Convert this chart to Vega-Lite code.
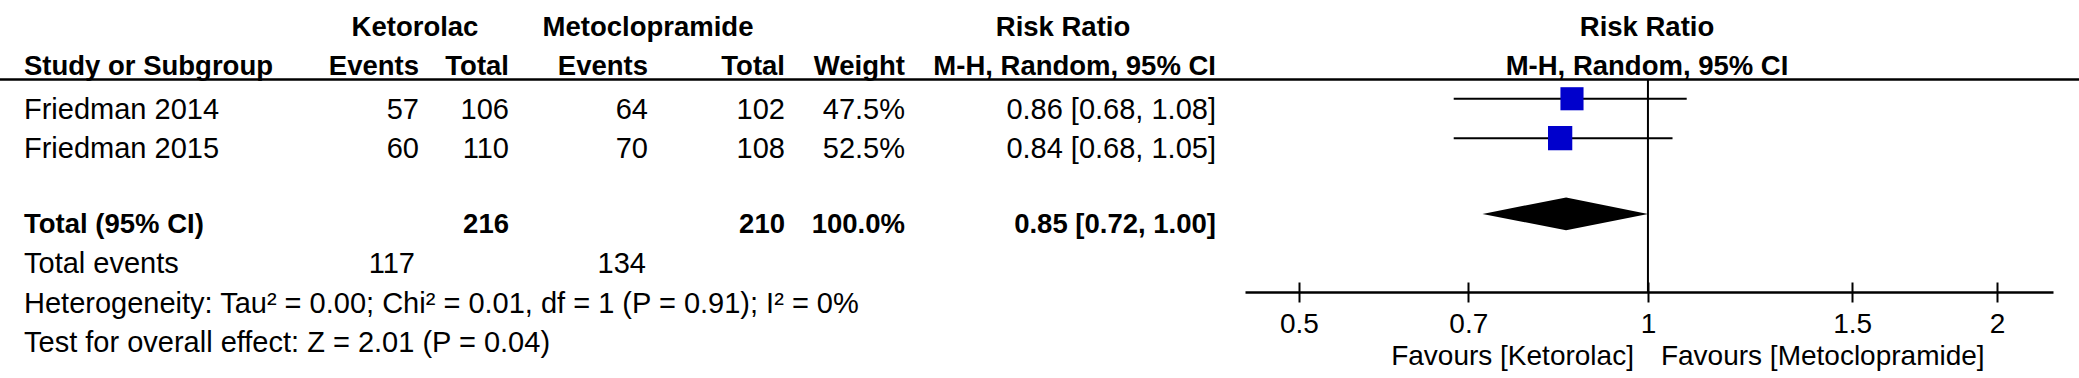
{
  "$schema": "https://vega.github.io/schema/vega-lite/v6.json",
  "width": 2079,
  "height": 292,
  "autosize": {"type": "none"},
  "padding": {"left": 0, "top": 0, "right": 0, "bottom": 86},
  "background": "#ffffff",
  "config": {
    "view": {"stroke": null},
    "axis": {"labelFont": "Liberation Sans", "labelFontSize": 28, "labelColor": "black", "labelPadding": 8, "tickSize": 10, "tickWidth": 2, "tickColor": "black", "domainColor": "black", "domainWidth": 2.5, "grid": false}
  },
  "datasets": {
    "studies": [
      {"row": "Friedman 2014", "ke": 57, "kt": 106, "me": 64, "mt": 102, "weight": 0.475, "rr": 0.86, "lo": 0.68, "hi": 1.08, "ci": "0.86 [0.68, 1.08]"},
      {"row": "Friedman 2015", "ke": 60, "kt": 110, "me": 70, "mt": 108, "weight": 0.525, "rr": 0.84, "lo": 0.68, "hi": 1.05, "ci": "0.84 [0.68, 1.05]"}
    ],
    "total": [
      {"row": "Total (95% CI)", "kt": 216, "mt": 210, "weight": 1.0, "rr": 0.85, "lo": 0.72, "hi": 1.0, "ci": "0.85 [0.72, 1.00]"}
    ],
    "events": [
      {"row": "Total events", "ke": 117, "me": 134}
    ],
    "notes": [
      {"row": "Heterogeneity", "text": "Heterogeneity: Tau² = 0.00; Chi² = 0.01, df = 1 (P = 0.91); I² = 0%"},
      {"row": "Overall effect", "text": "Test for overall effect: Z = 2.01 (P = 0.04)"}
    ],
    "hdr1": [
      {"row": "H1", "group1": "Ketorolac", "group2": "Metoclopramide", "effect": "Risk Ratio"}
    ],
    "hdr2": [
      {"row": "H2", "study": "Study or Subgroup", "events": "Events", "total": "Total", "weight": "Weight", "method": "M-H, Random, 95% CI"}
    ],
    "favours": [
      {"row": "Overall effect", "left": "Favours [Ketorolac]", "right": "Favours [Metoclopramide]"}
    ]
  },
  "encoding": {
    "y": {
      "field": "row",
      "type": "nominal",
      "scale": {
        "type": "point",
        "domain": ["H1", "H2", "Friedman 2014", "Friedman 2015", "gap", "Total (95% CI)", "Total events", "Heterogeneity", "Overall effect"],
        "range": [28, 343],
        "padding": 0
      },
      "axis": null
    }
  },
  "layer": [
    {
      "layer": [
        {"data": {"values": [{}]}, "mark": {"type": "rule", "color": "black", "strokeWidth": 2.5, "yOffset": 12}, "encoding": {"y": {"datum": "H2"}}},
        {"data": {"name": "hdr1"}, "mark": {"type": "text", "align": "center", "baseline": "middle", "font": "Liberation Sans", "fontWeight": "bold", "fontSize": 27.5, "color": "black"},
         "encoding": {"x": {"datum": 415, "type": "quantitative", "scale": {"domain": [0, 2079], "range": [0, 2079], "nice": false, "zero": false}, "axis": null}, "text": {"field": "group1"}}},
        {"data": {"name": "hdr1"}, "mark": {"type": "text", "align": "center", "baseline": "middle", "font": "Liberation Sans", "fontWeight": "bold", "fontSize": 27.5, "color": "black"},
         "encoding": {"x": {"datum": 648, "type": "quantitative", "scale": {"domain": [0, 2079], "range": [0, 2079], "nice": false, "zero": false}, "axis": null}, "text": {"field": "group2"}}},
        {"data": {"name": "hdr1"}, "mark": {"type": "text", "align": "center", "baseline": "middle", "font": "Liberation Sans", "fontWeight": "bold", "fontSize": 27.5, "color": "black"},
         "encoding": {"x": {"datum": 1063, "type": "quantitative", "scale": {"domain": [0, 2079], "range": [0, 2079], "nice": false, "zero": false}, "axis": null}, "text": {"field": "effect"}}},
        {"data": {"name": "hdr1"}, "mark": {"type": "text", "align": "center", "baseline": "middle", "font": "Liberation Sans", "fontWeight": "bold", "fontSize": 27.5, "color": "black"},
         "encoding": {"x": {"datum": 1647, "type": "quantitative", "scale": {"domain": [0, 2079], "range": [0, 2079], "nice": false, "zero": false}, "axis": null}, "text": {"field": "effect"}}},
        {"data": {"name": "hdr2"}, "mark": {"type": "text", "align": "left", "baseline": "middle", "font": "Liberation Sans", "fontWeight": "bold", "fontSize": 27.5, "color": "black"},
         "encoding": {"x": {"datum": 24, "type": "quantitative", "scale": {"domain": [0, 2079], "range": [0, 2079], "nice": false, "zero": false}, "axis": null}, "text": {"field": "study"}}},
        {"data": {"name": "hdr2"}, "mark": {"type": "text", "align": "right", "baseline": "middle", "font": "Liberation Sans", "fontWeight": "bold", "fontSize": 27.5, "color": "black"},
         "encoding": {"x": {"datum": 419, "type": "quantitative", "scale": {"domain": [0, 2079], "range": [0, 2079], "nice": false, "zero": false}, "axis": null}, "text": {"field": "events"}}},
        {"data": {"name": "hdr2"}, "mark": {"type": "text", "align": "right", "baseline": "middle", "font": "Liberation Sans", "fontWeight": "bold", "fontSize": 27.5, "color": "black"},
         "encoding": {"x": {"datum": 509, "type": "quantitative", "scale": {"domain": [0, 2079], "range": [0, 2079], "nice": false, "zero": false}, "axis": null}, "text": {"field": "total"}}},
        {"data": {"name": "hdr2"}, "mark": {"type": "text", "align": "right", "baseline": "middle", "font": "Liberation Sans", "fontWeight": "bold", "fontSize": 27.5, "color": "black"},
         "encoding": {"x": {"datum": 648, "type": "quantitative", "scale": {"domain": [0, 2079], "range": [0, 2079], "nice": false, "zero": false}, "axis": null}, "text": {"field": "events"}}},
        {"data": {"name": "hdr2"}, "mark": {"type": "text", "align": "right", "baseline": "middle", "font": "Liberation Sans", "fontWeight": "bold", "fontSize": 27.5, "color": "black"},
         "encoding": {"x": {"datum": 785, "type": "quantitative", "scale": {"domain": [0, 2079], "range": [0, 2079], "nice": false, "zero": false}, "axis": null}, "text": {"field": "total"}}},
        {"data": {"name": "hdr2"}, "mark": {"type": "text", "align": "right", "baseline": "middle", "font": "Liberation Sans", "fontWeight": "bold", "fontSize": 27.5, "color": "black"},
         "encoding": {"x": {"datum": 905, "type": "quantitative", "scale": {"domain": [0, 2079], "range": [0, 2079], "nice": false, "zero": false}, "axis": null}, "text": {"field": "weight"}}},
        {"data": {"name": "hdr2"}, "mark": {"type": "text", "align": "right", "baseline": "middle", "font": "Liberation Sans", "fontWeight": "bold", "fontSize": 27.5, "color": "black"},
         "encoding": {"x": {"datum": 1216, "type": "quantitative", "scale": {"domain": [0, 2079], "range": [0, 2079], "nice": false, "zero": false}, "axis": null}, "text": {"field": "method"}}},
        {"data": {"name": "hdr2"}, "mark": {"type": "text", "align": "center", "baseline": "middle", "font": "Liberation Sans", "fontWeight": "bold", "fontSize": 27.5, "color": "black"},
         "encoding": {"x": {"datum": 1647, "type": "quantitative", "scale": {"domain": [0, 2079], "range": [0, 2079], "nice": false, "zero": false}, "axis": null}, "text": {"field": "method"}}},

        {"data": {"name": "studies"}, "mark": {"type": "text", "align": "left", "baseline": "middle", "font": "Liberation Sans", "fontSize": 29, "color": "black", "dy": 3},
         "encoding": {"x": {"datum": 24, "type": "quantitative", "scale": {"domain": [0, 2079], "range": [0, 2079], "nice": false, "zero": false}, "axis": null}, "text": {"field": "row"}}},
        {"data": {"name": "studies"}, "mark": {"type": "text", "align": "right", "baseline": "middle", "font": "Liberation Sans", "fontSize": 29, "color": "black", "dy": 3},
         "encoding": {"x": {"datum": 419, "type": "quantitative", "scale": {"domain": [0, 2079], "range": [0, 2079], "nice": false, "zero": false}, "axis": null}, "text": {"field": "ke", "type": "quantitative"}}},
        {"data": {"name": "studies"}, "mark": {"type": "text", "align": "right", "baseline": "middle", "font": "Liberation Sans", "fontSize": 29, "color": "black", "dy": 3},
         "encoding": {"x": {"datum": 509, "type": "quantitative", "scale": {"domain": [0, 2079], "range": [0, 2079], "nice": false, "zero": false}, "axis": null}, "text": {"field": "kt", "type": "quantitative"}}},
        {"data": {"name": "studies"}, "mark": {"type": "text", "align": "right", "baseline": "middle", "font": "Liberation Sans", "fontSize": 29, "color": "black", "dy": 3},
         "encoding": {"x": {"datum": 648, "type": "quantitative", "scale": {"domain": [0, 2079], "range": [0, 2079], "nice": false, "zero": false}, "axis": null}, "text": {"field": "me", "type": "quantitative"}}},
        {"data": {"name": "studies"}, "mark": {"type": "text", "align": "right", "baseline": "middle", "font": "Liberation Sans", "fontSize": 29, "color": "black", "dy": 3},
         "encoding": {"x": {"datum": 785, "type": "quantitative", "scale": {"domain": [0, 2079], "range": [0, 2079], "nice": false, "zero": false}, "axis": null}, "text": {"field": "mt", "type": "quantitative"}}},
        {"data": {"name": "studies"}, "mark": {"type": "text", "align": "right", "baseline": "middle", "font": "Liberation Sans", "fontSize": 29, "color": "black", "dy": 3},
         "encoding": {"x": {"datum": 905, "type": "quantitative", "scale": {"domain": [0, 2079], "range": [0, 2079], "nice": false, "zero": false}, "axis": null}, "text": {"field": "weight", "type": "quantitative", "format": ".1%"}}},
        {"data": {"name": "studies"}, "mark": {"type": "text", "align": "right", "baseline": "middle", "font": "Liberation Sans", "fontSize": 29, "color": "black", "dy": 3},
         "encoding": {"x": {"datum": 1216, "type": "quantitative", "scale": {"domain": [0, 2079], "range": [0, 2079], "nice": false, "zero": false}, "axis": null}, "text": {"field": "ci"}}},

        {"data": {"name": "total"}, "mark": {"type": "text", "align": "left", "baseline": "middle", "font": "Liberation Sans", "fontWeight": "bold", "fontSize": 27.5, "color": "black"},
         "encoding": {"x": {"datum": 24, "type": "quantitative", "scale": {"domain": [0, 2079], "range": [0, 2079], "nice": false, "zero": false}, "axis": null}, "text": {"field": "row"}}},
        {"data": {"name": "total"}, "mark": {"type": "text", "align": "right", "baseline": "middle", "font": "Liberation Sans", "fontWeight": "bold", "fontSize": 27.5, "color": "black"},
         "encoding": {"x": {"datum": 509, "type": "quantitative", "scale": {"domain": [0, 2079], "range": [0, 2079], "nice": false, "zero": false}, "axis": null}, "text": {"field": "kt", "type": "quantitative"}}},
        {"data": {"name": "total"}, "mark": {"type": "text", "align": "right", "baseline": "middle", "font": "Liberation Sans", "fontWeight": "bold", "fontSize": 27.5, "color": "black"},
         "encoding": {"x": {"datum": 785, "type": "quantitative", "scale": {"domain": [0, 2079], "range": [0, 2079], "nice": false, "zero": false}, "axis": null}, "text": {"field": "mt", "type": "quantitative"}}},
        {"data": {"name": "total"}, "mark": {"type": "text", "align": "right", "baseline": "middle", "font": "Liberation Sans", "fontWeight": "bold", "fontSize": 27.5, "color": "black"},
         "encoding": {"x": {"datum": 905, "type": "quantitative", "scale": {"domain": [0, 2079], "range": [0, 2079], "nice": false, "zero": false}, "axis": null}, "text": {"field": "weight", "type": "quantitative", "format": ".1%"}}},
        {"data": {"name": "total"}, "mark": {"type": "text", "align": "right", "baseline": "middle", "font": "Liberation Sans", "fontWeight": "bold", "fontSize": 27.5, "color": "black"},
         "encoding": {"x": {"datum": 1216, "type": "quantitative", "scale": {"domain": [0, 2079], "range": [0, 2079], "nice": false, "zero": false}, "axis": null}, "text": {"field": "ci"}}},

        {"data": {"name": "events"}, "mark": {"type": "text", "align": "left", "baseline": "middle", "font": "Liberation Sans", "fontSize": 29, "color": "black"},
         "encoding": {"x": {"datum": 24, "type": "quantitative", "scale": {"domain": [0, 2079], "range": [0, 2079], "nice": false, "zero": false}, "axis": null}, "text": {"field": "row"}}},
        {"data": {"name": "events"}, "mark": {"type": "text", "align": "right", "baseline": "middle", "font": "Liberation Sans", "fontSize": 29, "color": "black"},
         "encoding": {"x": {"datum": 415, "type": "quantitative", "scale": {"domain": [0, 2079], "range": [0, 2079], "nice": false, "zero": false}, "axis": null}, "text": {"field": "ke", "type": "quantitative"}}},
        {"data": {"name": "events"}, "mark": {"type": "text", "align": "right", "baseline": "middle", "font": "Liberation Sans", "fontSize": 29, "color": "black"},
         "encoding": {"x": {"datum": 646, "type": "quantitative", "scale": {"domain": [0, 2079], "range": [0, 2079], "nice": false, "zero": false}, "axis": null}, "text": {"field": "me", "type": "quantitative"}}},

        {"data": {"name": "notes"}, "mark": {"type": "text", "align": "left", "baseline": "middle", "font": "Liberation Sans", "fontSize": 29, "color": "black"},
         "encoding": {"x": {"datum": 24, "type": "quantitative", "scale": {"domain": [0, 2079], "range": [0, 2079], "nice": false, "zero": false}, "axis": null}, "text": {"field": "text"}}}
      ]
    },
    {
      "layer": [
        {"data": {"name": "studies"}, "mark": {"type": "rule", "color": "black", "strokeWidth": 2, "yOffset": -8},
         "encoding": {
           "x": {"field": "lo", "type": "quantitative", "title": null, "scale": {"type": "log", "domain": [0.4493, 2.235], "range": [1245, 2053], "nice": false}, "axis": {"orient": "bottom", "values": [0.5, 0.7, 1, 1.5, 2], "format": "~g", "title": null}},
           "x2": {"field": "hi"}
         }},
        {"data": {"name": "studies"}, "mark": {"type": "point", "shape": "square", "filled": true, "color": "#0000CC", "opacity": 1, "strokeWidth": 0, "yOffset": -8},
         "encoding": {
           "x": {"field": "rr", "type": "quantitative", "title": null, "scale": {"type": "log", "domain": [0.4493, 2.235], "range": [1245, 2053], "nice": false}, "axis": {"orient": "bottom", "values": [0.5, 0.7, 1, 1.5, 2], "format": "~g", "title": null}},
           "size": {"field": "weight", "type": "quantitative", "scale": {"type": "linear", "domain": [0, 0.525], "range": [0, 590], "zero": true}, "legend": null}
         }},
        {"data": {"name": "total"}, "mark": {"type": "point", "shape": "M-1,0L0,-0.197L0.98,0L0,0.197Z", "filled": true, "color": "black", "opacity": 1, "strokeWidth": 0, "size": 27956, "yOffset": -11},
         "encoding": {
           "x": {"field": "rr", "type": "quantitative", "title": null, "scale": {"type": "log", "domain": [0.4493, 2.235], "range": [1245, 2053], "nice": false}, "axis": {"orient": "bottom", "values": [0.5, 0.7, 1, 1.5, 2], "format": "~g", "title": null}}
         }},
        {"data": {"name": "favours"}, "mark": {"type": "text", "align": "right", "baseline": "middle", "font": "Liberation Sans", "fontSize": 28, "color": "black", "dx": -14, "dy": 14},
         "encoding": {
           "x": {"datum": 1, "type": "quantitative", "title": null, "scale": {"type": "log", "domain": [0.4493, 2.235], "range": [1245, 2053], "nice": false}, "axis": {"orient": "bottom", "values": [0.5, 0.7, 1, 1.5, 2], "format": "~g", "title": null}},
           "text": {"field": "left"}
         }},
        {"data": {"name": "favours"}, "mark": {"type": "text", "align": "left", "baseline": "middle", "font": "Liberation Sans", "fontSize": 28, "color": "black", "dx": 13, "dy": 14},
         "encoding": {
           "x": {"datum": 1, "type": "quantitative", "title": null, "scale": {"type": "log", "domain": [0.4493, 2.235], "range": [1245, 2053], "nice": false}, "axis": {"orient": "bottom", "values": [0.5, 0.7, 1, 1.5, 2], "format": "~g", "title": null}},
           "text": {"field": "right"}
         }}
      ]
    },
    {
      "layer": [
        {"data": {"values": [{}]}, "mark": {"type": "rule", "color": "black", "strokeWidth": 2, "yOffset": 12, "y2Offset": 27.7},
         "encoding": {
           "x": {"datum": 1, "type": "quantitative", "title": null, "scale": {"type": "log", "domain": [0.4493, 2.235], "range": [1245, 2053], "nice": false}, "axis": {"orient": "top", "offset": -292, "values": [0.5, 0.7, 1, 1.5, 2], "labels": false, "domain": false, "ticks": true, "tickSize": 10, "tickWidth": 2, "tickColor": "black", "title": null}},
           "y": {"datum": "H2"},
           "y2": {"datum": "Total events"}
         }}
      ]
    }
  ],
  "resolve": {"scale": {"x": "independent"}, "axis": {"x": "independent"}}
}
